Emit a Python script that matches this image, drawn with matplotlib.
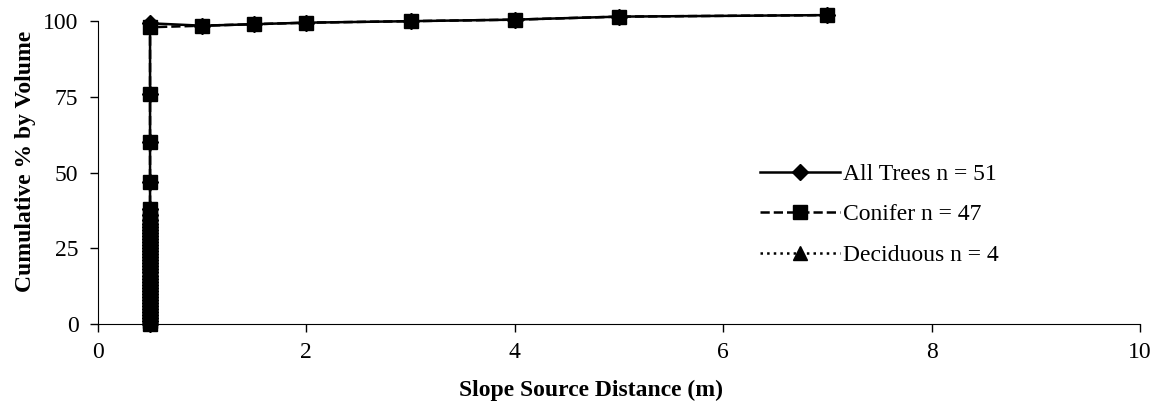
import matplotlib.pyplot as plt
import numpy as np

plt.rcParams['font.family'] = ['Liberation Serif', 'DejaVu Serif']

# slope source distance (m) and cumulative % by volume
conifer_dist = [0.5] * 41 + [1, 1.5, 2, 3, 4, 5, 7]
conifer_pct = [0, 1, 2, 3, 4, 5, 6, 7, 8, 9, 10, 11, 12, 13, 14, 15, 16,
               17, 18, 19, 20, 21, 22, 23, 24, 25, 26, 27, 28, 29, 30, 31,
               32, 33, 34.5, 36, 38, 47, 60, 76, 98,
               98.5, 99, 99.5, 100, 100.5, 101.5, 102]

all_dist = [0.5] * 41 + [1, 1.5, 2, 3, 4, 5, 7]
all_pct = [0, 1, 2, 3, 4, 5, 6, 7, 8, 9, 10, 11, 12, 13, 14, 15, 16,
           17, 18, 19, 20, 21, 22, 23, 24, 25, 26, 27, 28, 29, 30, 31,
           32, 33, 34.5, 36, 38, 47, 60, 76, 99.3,
           98.5, 99, 99.5, 100, 100.5, 101.5, 102]

decid_dist = [0.5, 0.5, 0.5, 0.5]
decid_pct = [5, 15, 25, 35]

fig = plt.figure(figsize=(11.55, 4.07), dpi=100)
ax = fig.add_axes([0.0848, 0.204, 0.9022, 0.744])

ax.plot(all_dist, all_pct, color='k', linestyle='-', linewidth=1.8,
        marker='D', markersize=8, label='All Trees n = 51', clip_on=False)
ax.plot(decid_dist, decid_pct, color='k', linestyle=':', linewidth=1.8,
        marker='^', markersize=10, label='Deciduous n = 4', clip_on=False)
ax.plot(conifer_dist, conifer_pct, color='k', linestyle='--', linewidth=1.8,
        marker='s', markersize=10, label='Conifer n = 47', clip_on=False)

ax.set_xlim(0, 10)
ax.set_ylim(0, 100)
ax.set_xticks(np.arange(0, 11, 2))
ax.set_yticks([0, 25, 50, 75, 100])
ax.tick_params(direction='out', length=6, width=1, labelsize=17)
ax.tick_params(axis='x', pad=7)
ax.tick_params(axis='y', pad=8)
ax.spines['top'].set_visible(False)
ax.spines['right'].set_visible(False)

ax.set_xlabel('Slope Source Distance (m)', fontsize=17, fontweight='bold')
ax.set_ylabel('Cumulative % by Volume', fontsize=17, fontweight='bold')
ax.xaxis.set_label_coords(0.473, -0.185)
ax.yaxis.set_label_coords(-0.059, 0.538)

handles, labels = ax.get_legend_handles_labels()
order = [0, 2, 1]
ax.legend([handles[i] for i in order], [labels[i] for i in order],
          loc='upper left', bbox_to_anchor=(0.635, 0.53), frameon=False,
          borderaxespad=0, borderpad=0,
          fontsize=17, handlelength=3.4, handletextpad=0.15, labelspacing=0.8)

fig.savefig('out.png', dpi=100)
